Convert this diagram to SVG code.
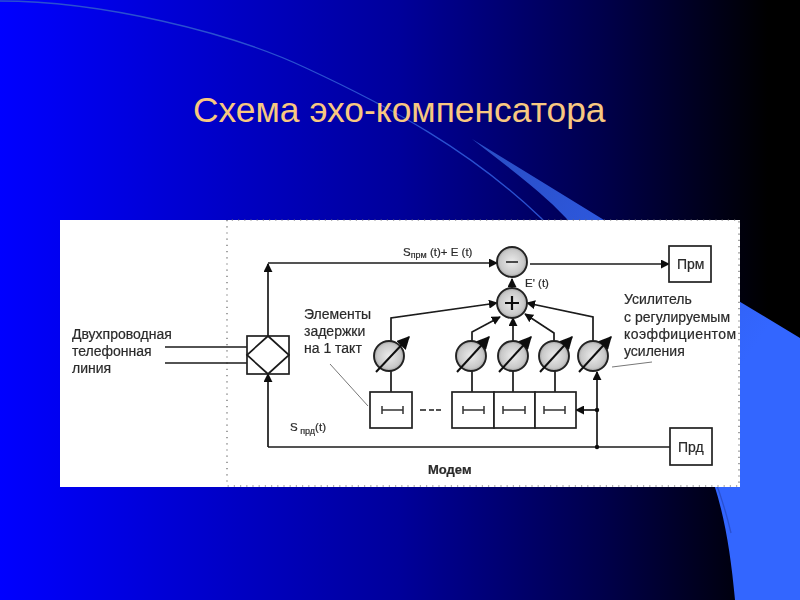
<svg xmlns="http://www.w3.org/2000/svg" width="800" height="600" viewBox="0 0 800 600">
<defs>
<linearGradient id="bg" x1="0" y1="0" x2="1" y2="0"><stop offset="0" stop-color="#0000ff"/><stop offset="0.06" stop-color="#0000f4"/><stop offset="0.5" stop-color="#00009a"/><stop offset="0.75" stop-color="#00004c"/><stop offset="0.96" stop-color="#000000"/></linearGradient>
<linearGradient id="sw" gradientUnits="userSpaceOnUse" x1="500" y1="160" x2="760" y2="340"><stop offset="0" stop-color="#2a4fc8"/><stop offset="1" stop-color="#3366ff"/></linearGradient>
<radialGradient id="dot"><stop offset="0" stop-color="#ececec"/><stop offset="0.8" stop-color="#c8c8c8"/><stop offset="1" stop-color="#a0a0a0"/></radialGradient>
<marker id="ab" viewBox="0 0 10 10" refX="9" refY="5" markerWidth="9" markerHeight="9" orient="auto" markerUnits="userSpaceOnUse"><path d="M0 0L10 5L0 10z" fill="#111"/></marker>
<marker id="big" viewBox="0 0 10 10" refX="9" refY="5" markerWidth="13" markerHeight="13" orient="auto" markerUnits="userSpaceOnUse"><path d="M0 0L10 5L0 10z" fill="#111"/></marker>
<filter id="soft" x="-5%" y="-5%" width="110%" height="110%"><feGaussianBlur stdDeviation="0.5"/></filter>
<style>
.l{fill:none;stroke:#1a1a1a;stroke-width:1.7}
.a{marker-end:url(#ab)}
.g{marker-end:url(#big);fill:none;stroke:#111;stroke-width:2}
.t{fill:none;stroke:#777;stroke-width:1}
.b{fill:#fff;stroke:#222;stroke-width:1.7}
.c{fill:url(#dot);stroke:#222;stroke-width:1.9}
.x{font-family:"Liberation Sans",Arial,sans-serif;font-size:14px;fill:#2a2a2a;stroke:#2a2a2a;stroke-width:.2}
.s{font-size:11.5px}
.bd{font-weight:bold;font-size:13px}
.z{fill:none;stroke:#333;stroke-width:1.5}
.p{fill:none;stroke:#666;stroke-width:1.2;stroke-dasharray:1.2 5}
</style>
</defs>
<rect width="800" height="600" fill="url(#bg)"/>
<g id="background-sweep">
<path d="M472 139L604 220L800 338V600H735C730 545 722 500 705 460C670 370 620 280 566 218C540 190 505 165 472 139Z" fill="url(#sw)"/>
<path d="M0 1C100 1 230 32 306 68C390 107 470 150 541 218C620 300 705 420 731 533" fill="none" stroke="#2a50d0" stroke-width="1.3"/>
</g>
<text x="193" y="122" font-family="'Liberation Sans',Arial,sans-serif" font-size="35.4" fill="#f8c880">Схема эхо-компенсатора</text>
<rect x="60" y="220" width="680" height="267" fill="#fff"/>
<g id="diagram" filter="url(#soft)">
<g id="frame"><path class="p" d="M227 220V486H739V220Z"/></g>
<g id="connectors">
<path class="l" d="M165 347H247M165 363H247"/>
<path class="l a" d="M268 336V264"/>
<path class="l a" d="M268 447V374"/>
<path class="l a" d="M268 263H497"/>
<path class="l a" d="M530 264H669"/>
<path class="l a" d="M512 288V279"/>
<path class="l a" d="M391 342V318L497 303"/>
<path class="l a" d="M472 341V332L500 317"/>
<path class="l a" d="M513 341V318"/>
<path class="l a" d="M554 341V333L525 314"/>
<path class="l a" d="M593 341V317L527 303"/>
<path class="l" d="M391 371V392M472 371V392M513 371V392M555 371V392"/>
<path class="l" d="M268 447H670"/>
<path class="l a" d="M597 447V372"/>
<path class="l a" d="M597 410H576"/>
<circle cx="597" cy="410" r="2.2" fill="#111"/>
<circle cx="597" cy="447" r="2.2" fill="#111"/>
<path class="t" d="M330 364L368 406M612 367L652 362"/>
<path class="l" d="M420 410H426M429 410H434M436 410H441"/>
</g>
<g id="hybrid"><rect class="b" x="247" y="336" width="42" height="38"/><path class="l" d="M268 336L289 355L268 374L247 355Z"/></g>
<g id="subtractor"><circle class="c" cx="512" cy="262" r="15"/><path d="M506 262H518" stroke="#222" stroke-width="1.6"/></g>
<g id="adder"><circle class="c" cx="512" cy="303" r="15"/><path d="M505 303H519M512 296V310" stroke="#111" stroke-width="2.2"/></g>
<g id="amp1"><circle class="c" cx="389" cy="356" r="15"/><path class="g" d="M376 372L409 337"/></g>
<g id="amp2"><circle class="c" cx="471" cy="356" r="15"/><path class="g" d="M457 372L489 337"/></g>
<g id="amp3"><circle class="c" cx="513" cy="356" r="15"/><path class="g" d="M499 372L531 337"/></g>
<g id="amp4"><circle class="c" cx="554" cy="356" r="15"/><path class="g" d="M540 372L572 337"/></g>
<g id="amp5"><circle class="c" cx="593" cy="356" r="15"/><path class="g" d="M579 372L611 337"/></g>
<g id="delay1"><rect class="b" x="370" y="392" width="42" height="36"/><path class="z" d="M382 406V414M382 410H403M403 406V414"/></g>
<g id="delay2"><rect class="b" x="452" y="392" width="42" height="36"/><path class="z" d="M463 406V414M463 410H484M484 406V414"/></g>
<g id="delay3"><rect class="b" x="494" y="392" width="41" height="36"/><path class="z" d="M503 406V414M503 410H525M525 406V414"/></g>
<g id="delay4"><rect class="b" x="535" y="392" width="41" height="36"/><path class="z" d="M544 406V414M544 410H565M565 406V414"/></g>
<g id="prm"><rect class="b" x="669" y="246" width="42" height="36"/><text class="x" x="677" y="269">Прм</text></g>
<g id="prd"><rect class="b" x="670" y="428" width="42" height="37"/><text class="x" x="678" y="452">Прд</text></g>
<g id="labels">
<text class="x" x="72" y="339">Двухпроводная</text>
<text class="x" x="72" y="356">телефонная</text>
<text class="x" x="72" y="373">линия</text>
<text class="x" x="304" y="319">Элементы</text>
<text class="x" x="304" y="336">задержки</text>
<text class="x" x="304" y="353">на 1 такт</text>
<text class="x" x="624" y="304">Усилитель</text>
<text class="x" x="624" y="322" textLength="106">с регулируемым</text>
<text class="x" x="624" y="339" textLength="112">коэффициентом</text>
<text class="x" x="624" y="356">усиления</text>
<text class="x s" x="403" y="256">S<tspan font-size="9" dy="2">прм</tspan><tspan dy="-2"> (t)+ E (t)</tspan></text>
<text class="x s" x="525" y="287">E' (t)</text>
<text class="x s" x="290" y="431">S<tspan font-size="9" dy="3"> прд</tspan><tspan dy="-3">(t)</tspan></text>
<text class="x bd" x="428" y="474">Модем</text>
</g>
</g>
</svg>
